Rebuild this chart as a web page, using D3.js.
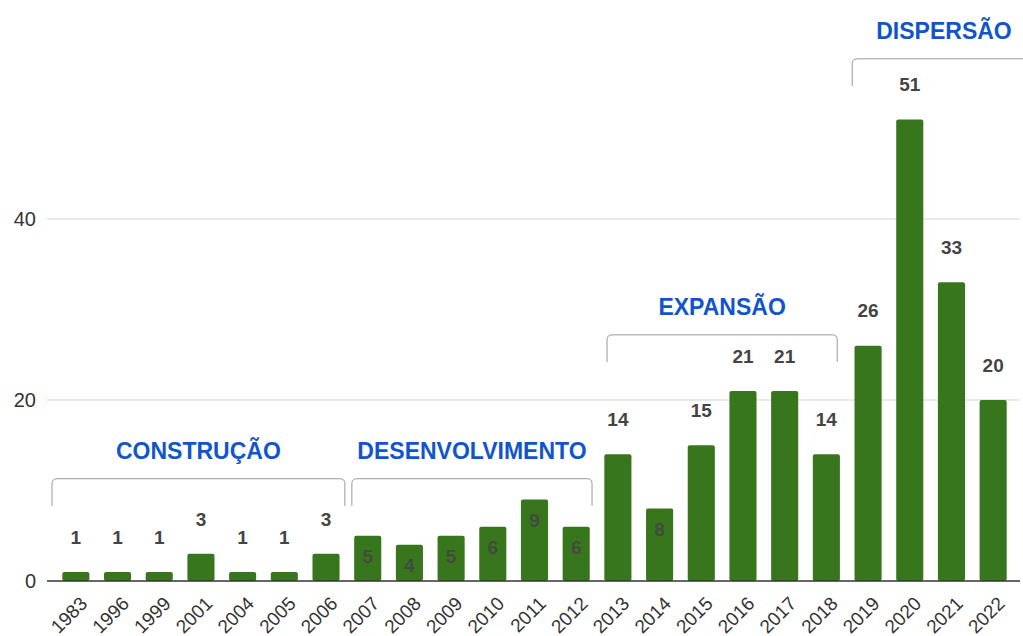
<!DOCTYPE html>
<html>
<head>
  <script src="https://d3js.org/d3.v7.min.js"></script>
  <style>
    body { margin: 0; background: #fff; }
    svg { font-family: Arial, "Liberation Sans", sans-serif; }
    .tick-y { font-size: 20px; fill: #333; }
    .tick-x { font-size: 19px; fill: #333; }
    .val { font-size: 19px; font-weight: bold; fill: #444; }
    .phase { font-size: 23px; font-weight: bold; fill: #1155cc; }
  </style>
</head>
<body>
  <div id="chart"></div>
  <script>
    const years = ["1983","1996","1999","2001","2004","2005","2006","2007","2008","2009","2010","2011",
      "2012","2013","2014","2015","2016","2017","2018","2019","2020","2021","2022"];
    const counts = [1,1,1,3,1,1,3,5,4,5,6,9,6,14,8,15,21,21,14,26,51,33,20];
    // where the value label sits: above the bar or inside it
    const labelPos = ["out","out","out","out","out","out","out","in","in","in","in","in",
      "in","out","in","out","out","out","out","out","out","out","out"];
    const yTicks = [0, 20, 40];

    const phaseNames = ["CONSTRUÇÃO", "DESENVOLVIMENTO", "EXPANSÃO", "DISPERSÃO"];
    const phaseFirst = ["1983", "2007", "2013", "2019"];
    const phaseLast = ["2006", "2012", "2018", "2022"];
    const phaseLevel = [8.3, 8.3, 24.2, 54.7];

    const W = 1023, H = 636;
    const svg = d3.select("#chart").append("svg")
      .attr("width", W).attr("height", H);

    const x = d3.scaleBand()
      .domain(years)
      .range([55, 1014])
      .paddingInner(0.35)
      .paddingOuter(0.175);

    const y = d3.scaleLinear()
      .domain([0, 64.2])
      .range([581, 0]);

    // grid
    svg.append("g")
      .selectAll("line")
      .data(yTicks.filter(d => d > 0))
      .join("line")
        .attr("x1", 47).attr("x2", 1020)
        .attr("y1", d => y(d)).attr("y2", d => y(d))
        .attr("stroke", "#d4d4d4").attr("stroke-width", 1);

    svg.append("g")
      .selectAll("text")
      .data(yTicks)
      .join("text")
        .attr("class", "tick-y")
        .attr("x", 36).attr("y", d => y(d))
        .attr("dy", "0.35em")
        .attr("text-anchor", "end")
        .text(d => d);

    // bars
    svg.append("g")
      .selectAll("rect")
      .data(counts)
      .join("rect")
        .attr("x", (d, i) => x(years[i]))
        .attr("y", d => y(d))
        .attr("width", x.bandwidth())
        .attr("height", d => y(0) - y(d))
        .attr("rx", 2)
        .attr("fill", "#38761d");

    // baseline
    svg.append("line")
      .attr("x1", 47).attr("x2", 1020)
      .attr("y1", y(0)).attr("y2", y(0))
      .attr("stroke", "#333").attr("stroke-width", 1.3);

    // value labels
    svg.append("g")
      .selectAll("text")
      .data(counts)
      .join("text")
        .attr("class", "val")
        .attr("x", (d, i) => x(years[i]) + x.bandwidth() / 2)
        .attr("y", (d, i) => labelPos[i] === "in" ? y(d) + 21 : y(d) - 35)
        .attr("dy", "0.35em")
        .attr("text-anchor", "middle")
        .attr("fill-opacity", (d, i) => labelPos[i] === "in" ? 0.85 : 1)
        .text(d => d);

    // x labels
    svg.append("g")
      .selectAll("text")
      .data(years)
      .join("text")
        .attr("class", "tick-x")
        .attr("transform", d => `translate(${x(d) + x.bandwidth() / 2 + 8},${y(0) + 19}) rotate(-45)`)
        .attr("text-anchor", "end")
        .attr("dy", "0.35em")
        .text(d => d);

    // phase brackets (hand-placed in the original, so small insets per bracket)
    const insetL = [-3, 5, 10, 5];
    const insetR = [-2, -5, -10, 0];
    const bracketH = 3.0, r = 5;
    const br = svg.append("g");
    phaseNames.forEach((name, i) => {
      const half = x.step() * x.paddingInner() / 2;
      const x0 = x(phaseFirst[i]) - half + insetL[i];
      let x1 = x(phaseLast[i]) + x.bandwidth() + half + insetR[i];
      if (i === 3) x1 = W + 10;
      const yb = y(phaseLevel[i]);
      const yt = y(phaseLevel[i] + bracketH);
      br.append("path")
        .attr("d", `M${x0},${yb} L${x0},${yt + r} Q${x0},${yt} ${x0 + r},${yt} L${x1 - r},${yt} Q${x1},${yt} ${x1},${yt + r} L${x1},${yb}`)
        .attr("fill", "none")
        .attr("stroke", "#999")
        .attr("stroke-width", 1);
      br.append("text")
        .attr("class", "phase")
        .attr("x", i === 3 ? 944 : (x0 + x1) / 2)
        .attr("y", y(phaseLevel[i] + bracketH + 3.1))
        .attr("dy", "0.35em")
        .attr("text-anchor", "middle")
        .text(name);
    });
  </script>
</body>
</html>
